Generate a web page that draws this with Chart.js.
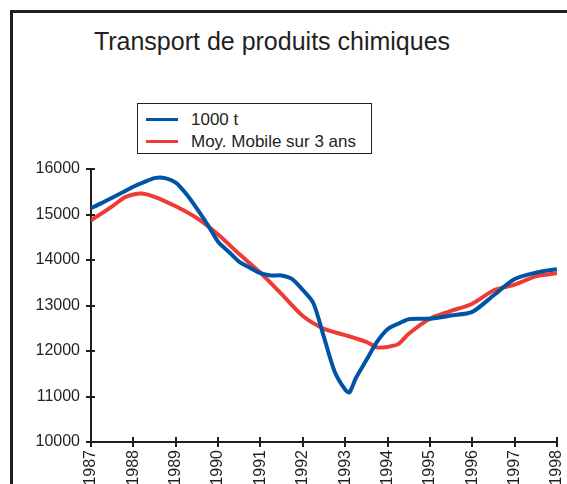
<!DOCTYPE html>
<html>
<head>
<meta charset="utf-8">
<script src="https://cdn.jsdelivr.net/npm/chart.js@4"></script>
<style>
  html, body { margin: 0; padding: 0; background: #fff; }
  body { width: 567px; height: 484px; position: relative; overflow: hidden; font-family: "Liberation Sans", Arial, sans-serif; color: #231f20; }
  #frame { position: absolute; left: 10px; top: 10px; width: 700px; height: 700px; border: 3px solid #231f20; }
  #title { position: absolute; left: 0; width: 544px; top: 27px; text-align: center; font-size: 25px; }
  #legend { position: absolute; left: 137px; top: 103px; width: 233px; height: 49px; border: 1.5px solid #231f20; background: #fff; }
  .row { position: absolute; left: 0; height: 22px; font-size: 17px; line-height: 22px; white-space: nowrap; }
  .swatch { position: absolute; left: 8px; top: 9px; width: 32px; height: 3px; }
  .label { position: absolute; left: 53px; top: 0; }
  #wrap { position: absolute; left: 0; top: 0; width: 567px; height: 484px; }
</style>
</head>
<body>
<div id="frame"></div>
<div id="title">Transport de produits chimiques</div>
<div id="wrap"><canvas id="chart" width="567" height="484"></canvas></div>
<div id="legend"></div>
<script>
// blue series: tonnage (1000 t)
const tonYears = [1987.0, 1987.25, 1987.5, 1987.75, 1988.0, 1988.25, 1988.5, 1988.75, 1989.0, 1989.25, 1989.5, 1989.75,
                  1990.0, 1990.25, 1990.5, 1990.75, 1991.0, 1991.25, 1991.5, 1991.75, 1992.0, 1992.25, 1992.5, 1992.75,
                  1993.0, 1993.1, 1993.25, 1993.5, 1993.75, 1994.0, 1994.25, 1994.5, 1995.0, 1995.5, 1996.0, 1996.5,
                  1997.0, 1997.5, 1998.0]
const tonValues = [15140, 15250, 15370, 15490, 15610, 15710, 15800, 15800, 15700, 15450, 15130, 14780,
                   14400, 14180, 13960, 13830, 13710, 13660, 13660, 13580, 13340, 13050, 12300, 11550,
                   11150, 11090, 11400, 11800, 12200, 12480, 12600, 12700, 12710, 12780, 12860, 13220,
                   13580, 13720, 13800]

// red series: 3-year moving average
const avgYears = [1987.0, 1987.5, 1987.8, 1988.0, 1988.2, 1988.5, 1989.0, 1989.5, 1990.0, 1990.5, 1991.0, 1991.5,
                  1992.0, 1992.5, 1993.0, 1993.5, 1993.75, 1994.0, 1994.25, 1994.5, 1995.0, 1995.5, 1996.0, 1996.5,
                  1997.0, 1997.5, 1998.0]
const avgValues = [14870, 15180, 15380, 15440, 15460, 15390, 15180, 14920, 14560, 14130, 13720, 13250,
                   12770, 12490, 12350, 12200, 12080, 12090, 12150, 12380, 12710, 12880, 13040, 13330,
                   13460, 13640, 13710]

const seriesLabels = ["1000 t", "Moy. Mobile sur 3 ans"]
const seriesColors = ["#0054a6", "#ef3b36"]

const yearMin = 1987, yearMax = 1998
const valueMin = 10000, valueMax = 16000, valueStep = 1000

const ink = "#231f20"

function toPoints(xs, ys) {
    return xs.map((x, i) => ({ x: x, y: ys[i] }))
}

// small ticks that cross the axis line
const crossTicks = {
    id: "crossTicks",
    afterDraw(chart) {
        const ctx = chart.ctx
        const xs = chart.scales.x, ys = chart.scales.y
        const area = chart.chartArea
        ctx.save()
        ctx.strokeStyle = ink
        ctx.lineWidth = 2
        ctx.beginPath()
        ys.ticks.forEach(t => {
            const py = Math.round(ys.getPixelForValue(t.value))
            ctx.moveTo(area.left - 5, py)
            ctx.lineTo(area.left + 4, py)
        })
        xs.ticks.forEach(t => {
            const px = Math.round(xs.getPixelForValue(t.value))
            ctx.moveTo(px, area.bottom - 5)
            ctx.lineTo(px, area.bottom + 5)
        })
        ctx.stroke()
        ctx.restore()
    }
}

function noEdgePad(s) {
    s.paddingLeft = 0
    s.paddingRight = 0
    s.paddingTop = 0
    s.paddingBottom = 0
}

const chart = new Chart(document.getElementById("chart"), {
    type: "line",
    data: {
        datasets: [{
            label: seriesLabels[0],
            data: toPoints(tonYears, tonValues),
            borderColor: seriesColors[0],
            borderWidth: 4,
            tension: 0.25
        }, {
            label: seriesLabels[1],
            data: toPoints(avgYears, avgValues),
            borderColor: seriesColors[1],
            borderWidth: 4,
            tension: 0.25
        }]
    },
    options: {
        responsive: false,
        animation: false,
        events: [],
        layout: { padding: { top: 169, right: 10, bottom: 0, left: 0 } },
        elements: { point: { radius: 0 }, line: { borderJoinStyle: "round", borderCapStyle: "butt" } },
        plugins: { legend: { display: false }, title: { display: false }, tooltip: { enabled: false } },
        scales: {
            x: {
                type: "linear",
                min: yearMin,
                max: yearMax,
                afterFit: s => { s.height = 42; noEdgePad(s) },
                border: { color: ink, width: 2 },
                grid: { drawOnChartArea: false, drawTicks: false },
                ticks: {
                    stepSize: 1,
                    autoSkip: false,
                    minRotation: 90,
                    maxRotation: 90,
                    padding: 8,
                    color: ink,
                    font: { family: "'Liberation Sans', Arial", size: 16 },
                    callback: v => String(v)
                }
            },
            y: {
                min: valueMin,
                max: valueMax,
                afterFit: s => { s.width = 91; noEdgePad(s) },
                border: { color: ink, width: 2 },
                grid: { drawOnChartArea: false, drawTicks: false },
                ticks: {
                    stepSize: valueStep,
                    padding: 11,
                    color: ink,
                    font: { family: "'Liberation Sans', Arial", size: 16 },
                    callback: v => String(v)
                }
            }
        }
    },
    plugins: [crossTicks]
})

// boxed legend built from the datasets
const legend = document.getElementById("legend")
chart.data.datasets.forEach((ds, i) => {
    const row = document.createElement("div")
    row.className = "row"
    row.style.top = (5 + i * 22) + "px"
    row.innerHTML = '<span class="swatch" style="background:' + ds.borderColor + '"></span><span class="label">' + ds.label + '</span>'
    legend.appendChild(row)
})
</script>
</body>
</html>
